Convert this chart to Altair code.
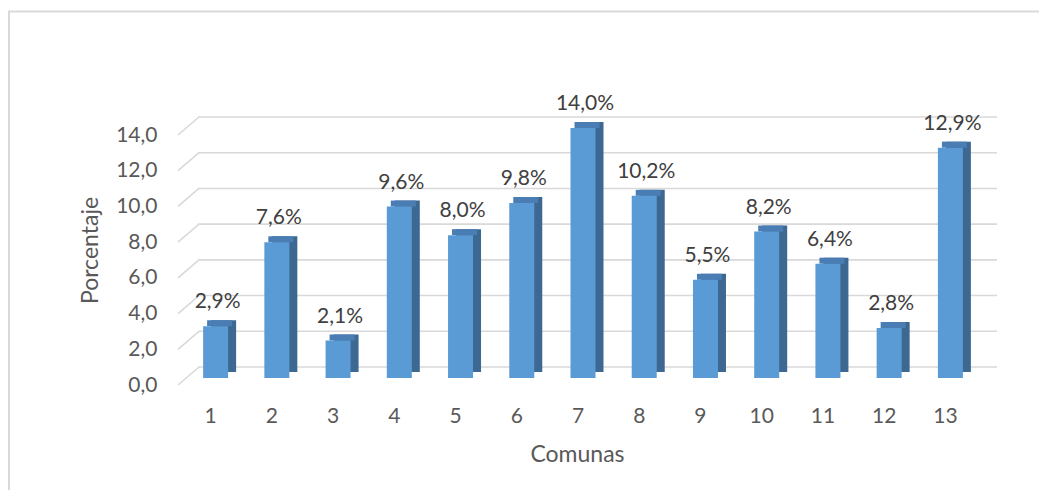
import altair as alt
import pandas as pd

# Data
comunas = ["1", "2", "3", "4", "5", "6", "7", "8", "9", "10", "11", "12", "13"]
porcentaje = [2.9, 7.6, 2.1, 9.6, 8.0, 9.8, 14.0, 10.2, 5.5, 8.2, 6.4, 2.8, 12.9]
y_ticks = [0, 2, 4, 6, 8, 10, 12, 14]

df = pd.DataFrame({"comuna": comunas, "v": porcentaje})
df["label"] = [f"{v:.1f}%".replace(".", ",") for v in porcentaje]
grid_df = pd.DataFrame({"v": y_ticks})
one = pd.DataFrame({"a": [0]})

FONT = "Lato"
W, H = 1031, 482

xscale = alt.Scale(domain=comunas, range=[177, 973], paddingInner=0, paddingOuter=0)
yscale = alt.Scale(domain=[0, 14], range=[370, 120], nice=False, zero=True)

x_axis = alt.Axis(title="Comunas", orient="bottom", offset=-89,
                  domain=False, ticks=False, tickSize=0, labelPadding=4,
                  labelAngle=0, labelOffset=-5, labelFont=FONT,
                  labelFontSize=21, labelColor="#595959",
                  titleFont=FONT, titleFontSize=23, titleFontWeight="normal",
                  titleColor="#595959", titleX=569, titleY=53,
                  titleBaseline="middle", titleAlign="center", grid=False)
y_axis = alt.Axis(title="Porcentaje", orient="left", offset=-153,
                  values=y_ticks, domain=False, ticks=False, tickSize=0,
                  labelPadding=4, labelOffset=7, grid=False,
                  labelExpr="replace(format(datum.value, '.1f'), '.', ',')",
                  labelFont=FONT, labelFontSize=21, labelColor="#595959",
                  titleFont=FONT, titleFontSize=23, titleFontWeight="normal",
                  titleColor="#595959", titleX=-71, titleY=242,
                  titleBaseline="middle", titleAlign="center")

x_enc = alt.X("comuna:N", scale=xscale, sort=comunas, axis=x_axis)
y_enc = alt.Y("v:Q", scale=yscale, axis=y_axis)

# chart frame (top and left edges visible)
frame_top = alt.Chart(one).mark_rule(color="#d9d9d9", strokeWidth=2).encode(
    x=alt.value(0), x2=alt.value(W), y=alt.value(3.5))
frame_left = alt.Chart(one).mark_rule(color="#d9d9d9", strokeWidth=2).encode(
    x=alt.value(1), y=alt.value(3.5), y2=alt.value(H))

# back-wall gridlines and floor diagonals
grid_h = alt.Chart(grid_df).mark_rule(color="#d9d9d9", strokeWidth=1.6, yOffset=-11).encode(
    y=y_enc, x=alt.value(190), x2=alt.value(989))
grid_d = alt.Chart(grid_df).mark_rule(color="#d9d9d9", strokeWidth=1.6,
                                      yOffset=7, y2Offset=-11).encode(
    y=y_enc, y2="v:Q", x=alt.value(170), x2=alt.value(191))

base = alt.Chart(df)
side = base.mark_bar(size=25, color="#3d6891", xOffset=8, x2Offset=8,
                     yOffset=-6, y2Offset=-6).encode(x=x_enc, y=y_enc)
top = base.mark_bar(size=25, color="#4a7db4", xOffset=4, x2Offset=4,
                    yOffset=-6, y2Offset=0).encode(x=x_enc, y=y_enc, y2="v:Q")
front = base.mark_bar(size=25, color="#5b9bd5").encode(x=x_enc, y=y_enc)
labels = base.mark_text(font=FONT, fontSize=21, color="#404040", dy=-24, dx=2,
                        baseline="middle", align="center").encode(
    x=x_enc, y=y_enc, text="label:N")

chart = alt.layer(grid_h, grid_d, side, top, front, labels, frame_top, frame_left).properties(
    width=W, height=H,
    padding={"left": 0, "top": 0, "right": 0, "bottom": 0},
    autosize=alt.AutoSizeParams(type="none"),
    background="white",
).configure_view(strokeWidth=0)

chart.save("out.html", embed_options={"renderer": "svg", "actions": False})
